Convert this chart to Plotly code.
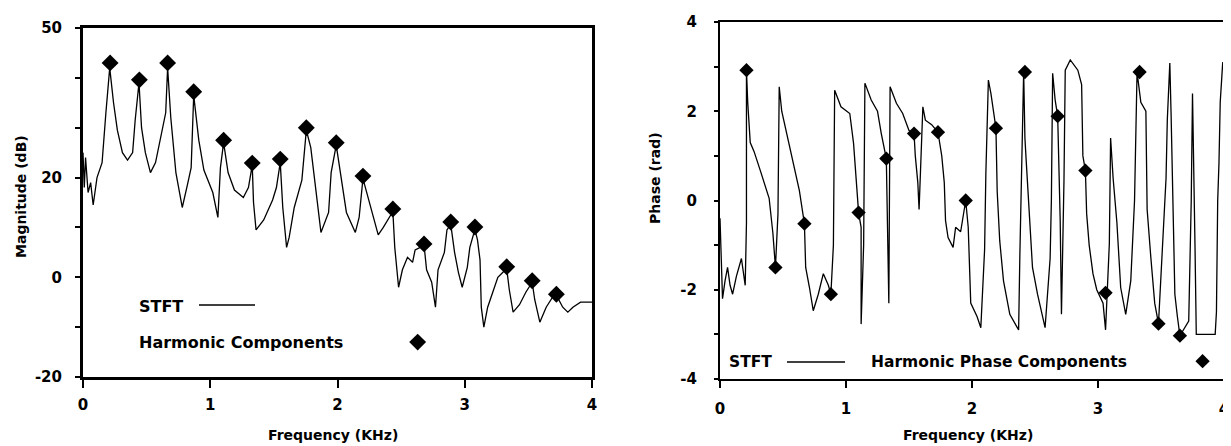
import plotly.graph_objects as go

W, H = 1231, 446
PAGE_OFFSET = 8  # browser body margin shifts the figure by this many pixels

# ---------------- data: magnitude plot ----------------
stft_mag_freq = [0.00, 0.01, 0.02, 0.04, 0.06, 0.08, 0.11, 0.15, 0.18, 0.21, 0.24, 0.27, 0.31, 0.35,
                 0.39, 0.41, 0.44, 0.46, 0.49, 0.53, 0.57, 0.61, 0.65, 0.665, 0.69, 0.73, 0.78, 0.82,
                 0.85, 0.87, 0.91, 0.95, 1.02, 1.06, 1.08, 1.105, 1.14, 1.19, 1.26, 1.30, 1.33, 1.34,
                 1.36, 1.42, 1.49, 1.52, 1.55, 1.57, 1.60, 1.62, 1.66, 1.72, 1.755, 1.79, 1.83, 1.87,
                 1.93, 1.95, 1.99, 2.03, 2.07, 2.14, 2.17, 2.20, 2.24, 2.28, 2.32, 2.36, 2.41, 2.435,
                 2.45, 2.48, 2.51, 2.55, 2.59, 2.61, 2.65, 2.68, 2.70, 2.74, 2.77, 2.79, 2.84, 2.86,
                 2.89, 2.92, 2.95, 2.98, 3.02, 3.04, 3.08, 3.10, 3.12, 3.13, 3.15, 3.18, 3.22, 3.26,
                 3.30, 3.33, 3.35, 3.38, 3.43, 3.48, 3.53, 3.55, 3.59, 3.64, 3.69, 3.72, 3.77, 3.81,
                 3.85, 3.91, 4.00]
stft_mag_db = [25, 18, 24, 17, 19, 14.5, 20, 23, 33, 42, 35, 29.5, 25, 23.5,
               25, 31.5, 39, 30, 25, 21, 23, 28, 33, 42, 32, 21, 14, 18.5,
               22, 36.5, 27.5, 21.5, 17, 12, 22, 27, 21, 17.5, 16, 18, 22.5, 15,
               9.5, 11.5, 15.5, 18, 23, 14, 6, 8, 14, 19.5, 29.5, 26, 18, 9,
               13, 21, 26.5, 20, 13, 9, 12, 19.8, 16, 12, 8.5, 10, 12, 13.2,
               6, -2, 1.5, 4, 3, 5.5, 6, 6.5, 1.5, -1, -6, 1.5, 5, 9.5,
               10.6, 5, 1, -2, 2, 6, 9.6, 7.5, 3.5, -6, -10, -6, -3, 0,
               1, 1.7, -2.5, -7, -5.5, -3, -1, -4.5, -9, -6, -4, -3.6, -6, -7,
               -6, -5, -5]

harm_freq = [0.213, 0.443, 0.665, 0.87, 1.105, 1.33, 1.55, 1.755, 1.99, 2.20, 2.435, 2.68,
             2.89, 3.08, 3.33, 3.53, 3.72]
harm_mag_db = [43, 39.6, 43, 37.2, 27.5, 22.9, 23.7, 30, 27, 20.3, 13.7, 6.7,
               11.1, 10.1, 2.1, -0.7, -3.4]

# ---------------- data: phase plot ----------------
stft_ph_freq = [0.00, 0.02, 0.04, 0.06, 0.08, 0.10, 0.13, 0.17, 0.20, 0.21, 0.21,
                0.22, 0.24, 0.27, 0.32, 0.39, 0.42, 0.44, 0.46, 0.47,
                0.49, 0.53, 0.58, 0.63, 0.67, 0.68, 0.71, 0.74, 0.78, 0.82, 0.86, 0.88, 0.90, 0.91,
                0.96, 1.03, 1.06, 1.08, 1.10, 1.12, 1.12, 1.14, 1.15,
                1.20, 1.25, 1.28, 1.32, 1.34, 1.35,
                1.40, 1.45, 1.50, 1.54, 1.55, 1.57, 1.58, 1.61, 1.63, 1.68, 1.73, 1.76, 1.78,
                1.79, 1.81, 1.85, 1.87, 1.91, 1.95, 1.97, 1.99, 2.04, 2.07, 2.10, 2.11, 2.13,
                2.15, 2.19, 2.20, 2.22, 2.25, 2.30, 2.37, 2.38, 2.41, 2.42, 2.43, 2.46, 2.48,
                2.52, 2.58, 2.62, 2.63, 2.64, 2.66, 2.68, 2.70, 2.71, 2.73, 2.74, 2.78, 2.84,
                2.87, 2.88, 2.90, 2.91, 2.93, 2.96, 2.99, 3.04, 3.06, 3.09, 3.10, 3.12, 3.15,
                3.18, 3.22, 3.26, 3.29, 3.31, 3.34, 3.38, 3.39, 3.42, 3.45, 3.48, 3.52, 3.54,
                3.55, 3.57, 3.58, 3.60, 3.61, 3.63, 3.65, 3.72, 3.73, 3.74, 3.75, 3.76, 3.77,
                3.78, 3.93, 3.94, 3.95, 3.96, 3.97, 3.99]
stft_ph_rad = [-0.4, -2.2, -1.8, -1.5, -1.9, -2.1, -1.7, -1.3, -1.9, -0.5, 2.92,
               2.2, 1.3, 1.1, 0.67, 0.05, -0.74, -1.5, -0.3, 2.55,
               2.0, 1.5, 0.83, 0.22, -0.52, -1.5, -1.95, -2.47, -2.1, -1.64, -1.9, -2.1, -1.0, 2.47,
               2.1, 1.95, 1.28, 0.52, -0.27, -0.6, -2.77, -1.0, 2.63,
               2.25, 2.0, 1.5, 0.94, -2.3, 2.55,
               2.18, 1.95, 1.57, 1.5, 1.0, 0.4, -0.2, 2.1, 1.8, 1.7, 1.53, 1.0, 0.4,
               -0.45, -0.83, -1.05, -0.6, -0.7, 0.0, -0.6, -2.3, -2.6, -2.85, -1.1, 0.6, 2.7,
               2.4, 1.62, 0.2, -0.9, -1.8, -2.55, -2.9, -1.2, 2.88, 1.4, 0.9, -0.4, -1.5,
               -2.1, -2.85, -1.3, 0.0, 2.85, 2.25, 1.89, -0.45, -2.55, 0.45, 2.92, 3.15, 2.92,
               2.6, 1.0, 0.67, -0.3, -1.0, -1.64, -2.0, -2.3, -2.9, -0.97, 1.4, 0.5, -0.5,
               -1.95, -2.55, -1.8, 0.0, 2.88, 2.2, 2.0, -0.2, -1.3, -2.3, -2.76, -0.4, 0.5,
               1.8, 3.08, 1.95, -0.6, -2.1, -2.6, -3.03, -2.7, -1.2, 0.0, 2.4, 0.0, -1.05,
               -3.0, -3.0, -2.5, 0.0, 0.83, 2.2, 3.1]

harm_ph_freq = [0.21, 0.44, 0.67, 0.88, 1.10, 1.32, 1.54, 1.73, 1.95, 2.19, 2.42, 2.68,
                2.90, 3.06, 3.33, 3.48, 3.65]
harm_ph_rad = [2.92, -1.5, -0.52, -2.1, -0.27, 0.94, 1.5, 1.53, 0.0, 1.62, 2.88, 1.89,
               0.67, -2.07, 2.88, -2.76, -3.03]

# legend marker positions (data coordinates)
legend_mag_pt = ([2.63], [-13])
legend_ph_pt = ([3.83], [-3.6])

mag_ticks = [-20, -10, 0, 10, 20, 30, 40, 50]
mag_ticktext = ["-20", "", "0", "", "20", "", "", "50"]
ph_ticks = [-4, -3, -2, -1, 0, 1, 2, 3, 4]
ph_ticktext = ["-4", "", "-2", "", "0", "", "2", "", "4"]
freq_ticks = [0, 1, 2, 3, 4]
freq_ticktext = ["0", "1", "2", "3", "4"]

FONT = "DejaVu Sans"
BLACK = "#000000"


def px_x(p):
    return (p - PAGE_OFFSET) / W


def px_y(p):
    return 1 - (p - PAGE_OFFSET) / H


fig = go.Figure()

fig.add_trace(go.Scatter(x=stft_mag_freq, y=stft_mag_db, mode="lines",
                         line=dict(color=BLACK, width=1.3), xaxis="x", yaxis="y",
                         showlegend=False))
fig.add_trace(go.Scatter(x=harm_freq, y=harm_mag_db, mode="markers",
                         marker=dict(symbol="diamond", size=13, color=BLACK),
                         xaxis="x", yaxis="y", showlegend=False))
fig.add_trace(go.Scatter(x=legend_mag_pt[0], y=legend_mag_pt[1], mode="markers",
                         marker=dict(symbol="diamond", size=13, color=BLACK),
                         xaxis="x", yaxis="y", showlegend=False))

fig.add_trace(go.Scatter(x=stft_ph_freq, y=stft_ph_rad, mode="lines",
                         line=dict(color=BLACK, width=1.3), xaxis="x2", yaxis="y2",
                         showlegend=False))
fig.add_trace(go.Scatter(x=harm_ph_freq, y=harm_ph_rad, mode="markers",
                         marker=dict(symbol="diamond", size=11, color=BLACK),
                         xaxis="x2", yaxis="y2", showlegend=False))
fig.add_trace(go.Scatter(x=legend_ph_pt[0], y=legend_ph_pt[1], mode="markers",
                         marker=dict(symbol="diamond", size=11, color=BLACK),
                         xaxis="x2", yaxis="y2", showlegend=False))

tickfont = dict(family=FONT, size=15, color=BLACK, weight="bold")

common_x = dict(tickmode="array", tickvals=freq_ticks, ticktext=freq_ticktext,
                showgrid=False, zeroline=False, ticks="outside", tickcolor=BLACK,
                showline=True, linecolor=BLACK, tickfont=tickfont, range=[0, 4],
                automargin=False)

fig.update_layout(
    template="none",
    width=W, height=H,
    margin=dict(l=0, r=0, t=0, b=0, autoexpand=False),
    paper_bgcolor="white", plot_bgcolor="white",
    showlegend=False,
    xaxis=dict(common_x, domain=[px_x(83), px_x(592)], anchor="y", mirror=True,
               linewidth=3, ticklen=8, tickwidth=2, ticklabelstandoff=4),
    yaxis=dict(domain=[px_y(377), px_y(28)], anchor="x", range=[-20, 50],
               tickmode="array", tickvals=mag_ticks, ticktext=mag_ticktext,
               showgrid=False, zeroline=False, ticks="outside", ticklen=5, tickwidth=2,
               tickcolor=BLACK, showline=True, linecolor=BLACK, linewidth=3, mirror=True,
               tickfont=tickfont, ticklabelstandoff=10, automargin=False),
    xaxis2=dict(common_x, domain=[px_x(720), px_x(1224)], anchor="y2", mirror=True,
                linewidth=2, ticklen=7, tickwidth=2, ticklabelstandoff=8),
    yaxis2=dict(domain=[px_y(379), px_y(22)], anchor="x2", range=[-4, 4],
                tickmode="array", tickvals=ph_ticks, ticktext=ph_ticktext,
                showgrid=False, zeroline=False, ticks="outside", ticklen=4, tickwidth=2,
                tickcolor=BLACK, showline=True, linecolor=BLACK, linewidth=2, mirror=False,
                tickfont=tickfont, ticklabelstandoff=14, automargin=False),
)

title_font = dict(family=FONT, size=14, color=BLACK, weight="bold")
leg_font = dict(family=FONT, size=16, color=BLACK, weight="bold")
leg_font2 = dict(family=FONT, size=15.5, color=BLACK, weight="bold")

annotations = [
    dict(text="Frequency (KHz)", x=px_x(333), y=px_y(435), xref="paper", yref="paper",
         showarrow=False, font=title_font, xanchor="center", yanchor="middle"),
    dict(text="Frequency (KHz)", x=px_x(968), y=px_y(435), xref="paper", yref="paper",
         showarrow=False, font=title_font, xanchor="center", yanchor="middle"),
    dict(text="Magnitude (dB)", x=px_x(21), y=px_y(197), xref="paper", yref="paper",
         showarrow=False, font=title_font, textangle=-90, xanchor="center", yanchor="middle"),
    dict(text="Phase (rad)", x=px_x(655), y=px_y(178), xref="paper", yref="paper",
         showarrow=False, font=title_font, textangle=-90, xanchor="center", yanchor="middle"),
    dict(text="STFT", x=px_x(137), y=px_y(306), xref="paper", yref="paper",
         showarrow=False, font=leg_font, xanchor="left", yanchor="middle"),
    dict(text="Harmonic Components", x=px_x(137), y=px_y(342), xref="paper", yref="paper",
         showarrow=False, font=leg_font, xanchor="left", yanchor="middle"),
    dict(text="STFT", x=px_x(727), y=px_y(362), xref="paper", yref="paper",
         showarrow=False, font=leg_font2, xanchor="left", yanchor="middle"),
    dict(text="Harmonic Phase Components", x=px_x(869), y=px_y(362), xref="paper", yref="paper",
         showarrow=False, font=leg_font2, xanchor="left", yanchor="middle"),
]
fig.update_layout(annotations=annotations)

fig.add_shape(type="line", xref="paper", yref="paper",
              x0=px_x(199), x1=px_x(255), y0=px_y(305), y1=px_y(305),
              line=dict(color=BLACK, width=1.3))
fig.add_shape(type="line", xref="paper", yref="paper",
              x0=px_x(787), x1=px_x(845), y0=px_y(362), y1=px_y(362),
              line=dict(color=BLACK, width=1.3))

fig.write_html("out.html")
